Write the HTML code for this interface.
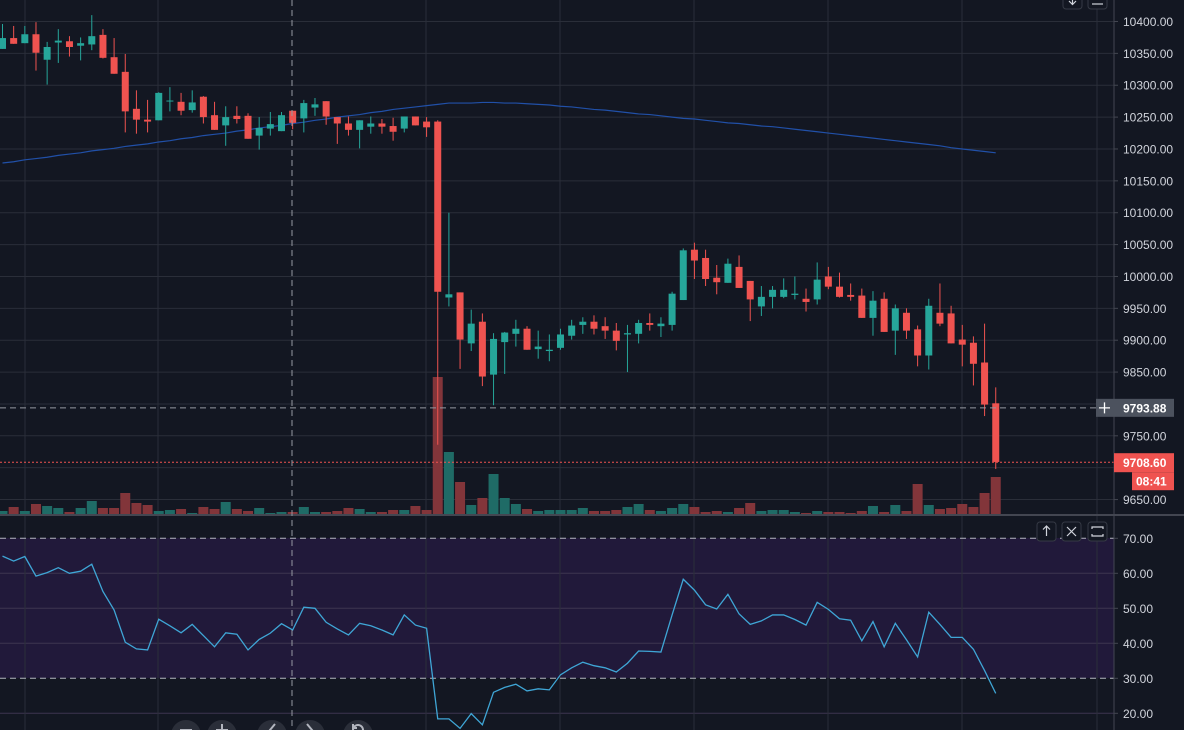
<!DOCTYPE html>
<html><head><meta charset="utf-8"><style>
html,body{margin:0;padding:0;background:#131722;width:1184px;height:730px;overflow:hidden;font-family:"Liberation Sans",sans-serif}
svg{display:block}
</style></head><body>
<svg id="chart" width="1184" height="730" xmlns="http://www.w3.org/2000/svg">
<rect x="0" y="0" width="1184" height="730" fill="#131722"/>
<rect x="0" y="538" width="1114" height="140" fill="#21193a"/>
<g id="grid"></g>
<g id="vol"></g>
<polyline id="ma" fill="none" stroke="#2150a8" stroke-width="1.2"/>
<g id="candles"></g>
<polyline id="rsi" fill="none" stroke="#3fa6d6" stroke-width="1.3"/>
<g id="axis"></g>
</svg>
<script>
const opens=[10357,10374,10366,10380,10340,10367,10369,10362,10364,10379,10344,10321,10263,10246,10245,10275,10274,10261,10282,10253,10237,10252,10252,10221,10232,10228,10260,10248,10265,10275,10250,10240,10230,10235,10240,10236,10232,10251,10243,10243,9967,9975,9895,9929,9846,9897,9910,9918,9886,9883,9888,9907,9924,9929,9922,9915,9909,9910,9927,9922,9924,9963,10042,10029,9998,9990,10015,9993,9953,9968,9968,9971,9965,9964,10000,9984,9971,9970,9935,9965,9915,9943,9917,9876,9943,9942,9901,9896,9865,9801];
const highs=[10396,10393,10393,10399,10368,10388,10377,10375,10410,10388,10374,10349,10292,10277,10289,10297,10288,10292,10283,10274,10267,10267,10256,10250,10258,10258,10260,10277,10280,10275,10250,10251,10245,10251,10247,10249,10251,10251,10250,10245,10100,9975,9948,9942,9911,9913,9932,9922,9915,9909,9918,9932,9936,9939,9936,9927,9924,9932,9942,9936,9976,10044,10053,10042,10018,10028,10033,9993,9985,9985,9997,10000,9981,10022,10015,10006,9989,9981,9977,9975,9956,9950,9923,9965,9989,9954,9924,9906,9926,9826];
const lows=[10357,10365,10366,10323,10301,10335,10345,10339,10355,10342,10318,10226,10224,10226,10245,10259,10253,10257,10240,10230,10205,10240,10216,10199,10221,10228,10231,10226,10252,10238,10208,10221,10201,10224,10224,10213,10226,10237,10219,9736,9953,9855,9883,9828,9798,9847,9890,9885,9871,9867,9885,9901,9910,9909,9902,9884,9850,9895,9915,9905,9915,9963,9996,9985,9972,9990,9982,9930,9938,9950,9966,9964,9945,9956,9980,9967,9962,9935,9907,9913,9877,9902,9859,9854,9922,9895,9859,9829,9781,9698];
const closes=[10374,10365,10380,10351,10360,10370,10360,10366,10377,10343,10318,10259,10246,10243,10288,10276,10260,10273,10250,10230,10250,10247,10216,10233,10239,10253,10241,10272,10270,10251,10240,10230,10245,10240,10235,10227,10251,10237,10234,9976,9972,9901,9926,9843,9902,9912,9918,9885,9890,9885,9909,9923,9929,9918,9915,9899,9911,9927,9924,9926,9973,10041,10025,9996,9991,10020,9982,9964,9968,9979,9979,9973,9960,9995,9984,9968,9968,9935,9962,9913,9950,9915,9876,9954,9926,9895,9893,9863,9799,9709];
const volumes=[3,7,3,10,8,6,2,6,13,6,6,21,11,9,3,4,5,1,7,5,12,5,3,6,1,2,2,7,2,2,3,6,5,2,2,4,4,8,4,137,62,32,9,16,40,16,10,5,3,4,4,4,6,3,3,4,7,10,4,3,6,10,7,2,3,2,6,11,3,4,4,2,1,3,2,2,1,3,8,2,9,3,30,9,5,6,10,7,21,37];
const maValues=[10178,10180,10183,10185,10187,10190,10192,10194,10197,10199,10201,10204,10206,10208,10211,10213,10216,10218,10221,10223,10225,10228,10230,10233,10235,10237,10240,10242,10245,10247,10250,10252,10254,10257,10259,10262,10264,10266,10268,10270,10272,10272,10272,10273,10273,10272,10272,10271,10270,10269,10267,10266,10264,10262,10261,10259,10257,10255,10254,10252,10250,10248,10247,10245,10243,10241,10240,10238,10236,10235,10233,10231,10229,10227,10225,10223,10221,10219,10217,10215,10213,10211,10209,10207,10205,10202,10200,10198,10196,10194];
const rsiValues=[64.9,63.5,64.8,59.2,60.2,61.6,60.0,60.6,62.6,54.8,49.5,40.3,38.4,38.1,46.9,45.0,43.0,45.4,42.2,39.0,43.0,42.6,38.1,41.1,42.9,45.6,43.8,50.3,50.0,46.0,44.1,42.4,45.7,45.0,43.8,42.4,48.1,45.2,44.3,18.4,18.4,15.7,19.9,16.7,26.0,27.4,28.3,26.4,27.0,26.7,31.0,33.0,34.6,33.6,33.0,31.8,34.3,37.8,37.7,37.5,48.1,58.3,55.2,51.0,49.8,54.0,48.4,45.4,46.4,48.1,48.1,46.8,45.2,51.7,49.7,47.0,46.6,40.7,46.2,39.0,45.7,41.0,36.1,48.9,45.4,41.7,41.7,38.3,32.2,25.7];
const priceTicks=[10400,10350,10300,10250,10200,10150,10100,10050,10000,9950,9900,9850,9800,9750,9650];
const rsiTicks=[70,60,50,40,30,20];
const lastPrice=9708.60, crossPrice=9793.88;

const NS="http://www.w3.org/2000/svg";
const xS=i=>2.5+11.16*i;
const yP=p=>21.5+(10400-p)*0.6374;
const yR=v=>538.3+(70-v)*3.5;
const yV=v=>514-v;
function mk(tag,attrs,parent){const e=document.createElementNS(NS,tag);for(const k in attrs)e.setAttribute(k,attrs[k]);parent.appendChild(e);return e;}
const grid=document.getElementById('grid'),vol=document.getElementById('vol'),cg=document.getElementById('candles'),ax=document.getElementById('axis');

// grid
[9650,9700,9750,9800,9850,9900,9950,10000,10050,10100,10150,10200,10250,10300,10350,10400].forEach(p=>{
  const l=mk('line',{x1:0,x2:1114,y1:yP(p),y2:yP(p),stroke:'#2a2e39','stroke-width':1},grid);
  
  
});
[60,50,40,20].forEach(v=>{
  const l=mk('line',{x1:0,x2:1114,y1:yR(v),y2:yR(v),stroke:'#3d3550','stroke-width':1},grid);
  
  
});
[25,158,426,560,694,828,962,1097].forEach(x=>{
  const l=mk('line',{x1:x,x2:x,y1:0,y2:730,stroke:'#2a2e39','stroke-width':1},grid);
  
  
});
[70,30].forEach(v=>{
  const l=mk('line',{x1:0,x2:1114,y1:yR(v),y2:yR(v),stroke:'#b2b5be','stroke-width':1,'stroke-dasharray':'6 4'},grid);
  
  
});
const sep=mk('line',{x1:0,x2:1184,y1:515,y2:515,stroke:'#434651','stroke-width':2},grid);



// volume
volumes.forEach((v,i)=>{
  const up=closes[i]>=opens[i];
  const r=mk('rect',{x:xS(i)-5,y:yV(v),width:10,height:v,fill:up?'#1f6b66':'#82353a'},vol);
  
  
});
// MA
document.getElementById('ma').setAttribute('points',maValues.map((v,i)=>xS(i)+','+yP(v)).join(' '));
// candles
opens.forEach((o,i)=>{
  const c=closes[i],up=c>=o,col=up?'#26a69a':'#ef5350',x=xS(i);
  const g=mk('g',{},cg);
  
  
  mk('line',{x1:x,x2:x,y1:yP(highs[i]),y2:yP(lows[i]),stroke:col,'stroke-width':1},g);
  const top=yP(Math.max(o,c)),bot=yP(Math.min(o,c));
  mk('rect',{x:x-3.5,y:top,width:7,height:Math.max(1,bot-top),fill:col},g);
});
// RSI
document.getElementById('rsi').setAttribute('points',rsiValues.map((v,i)=>xS(i)+','+yR(v)).join(' '));

// last price / crosshair lines
let l=mk('line',{x1:0,x2:1114,y1:yP(lastPrice),y2:yP(lastPrice),stroke:'#ef5350','stroke-width':1,'stroke-dasharray':'2 2'},ax);


l=mk('line',{x1:0,x2:1114,y1:yP(crossPrice),y2:yP(crossPrice),stroke:'#9598a1','stroke-width':1,'stroke-dasharray':'6 4'},ax);


l=mk('line',{x1:292,x2:292,y1:0,y2:730,stroke:'#9598a1','stroke-width':1,'stroke-dasharray':'6 4'},ax);



// axis
mk('rect',{x:1114,y:0,width:70,height:730,fill:'#131722'},ax);
mk('line',{x1:1114,x2:1114,y1:0,y2:730,stroke:'#434651','stroke-width':1},ax);
mk('line',{x1:1114,x2:1184,y1:515,y2:515,stroke:'#434651','stroke-width':2},ax);
priceTicks.forEach(p=>{
  const t=mk('text',{x:1123,y:yP(p)+4.5,fill:'#d1d4dc','font-size':12},ax);
  t.textContent=p.toFixed(2);
  
  
  mk('line',{x1:1114,x2:1118,y1:yP(p),y2:yP(p),stroke:'#434651'},ax);
});
rsiTicks.forEach(v=>{
  const t=mk('text',{x:1123,y:yR(v)+4.5,fill:'#d1d4dc','font-size':12},ax);
  t.textContent=v.toFixed(2);
  
  
  mk('line',{x1:1114,x2:1118,y1:yR(v),y2:yR(v),stroke:'#434651'},ax);
});
// crosshair label
let yc=yP(crossPrice);
mk('rect',{x:1096,y:yc-9,width:78,height:18,fill:'#4c525e'},ax);
mk('path',{d:`M1099 ${yc} h11 M1104.5 ${yc-5.5} v11`,stroke:'#fff','stroke-width':1.3},ax);
let t=mk('text',{x:1123,y:yc+4.5,fill:'#fff','font-size':12,'font-weight':'bold'},ax);
t.textContent=crossPrice.toFixed(2);


// last price label
let yl=yP(lastPrice);
mk('rect',{x:1114,y:yl-9,width:60,height:19,fill:'#ef5350'},ax);
t=mk('text',{x:1123,y:yl+5,fill:'#fff','font-size':12,'font-weight':'bold'},ax);
t.textContent=lastPrice.toFixed(2);


mk('rect',{x:1132,y:yl+10,width:42,height:18,fill:'#ef5350'},ax);
t=mk('text',{x:1136,y:yl+23.5,fill:'#fff','font-size':12,'font-weight':'bold'},ax);
t.textContent='08:41';



// pane buttons
function btn(x,y,name,glyph){
  const g=mk('g',{},ax);
  
  
  mk('rect',{x:x,y:y,width:19,height:19,rx:3,fill:'#131722',stroke:'#363a45'},g);
  mk('path',{d:glyph,stroke:'#d1d4dc','stroke-width':1.2,fill:'none'},g);
}
btn(1063,-10,'move-pane-down-button','M1072.5 -6 v10 M1069 1 l3.5 3.5 l3.5 -3.5');
btn(1088,-10,'maximize-pane-button','M1092 4 h11');
btn(1037,522,'move-pane-up-button','M1046.5 536 v-10 M1043 529.5 l3.5 -3.5 l3.5 3.5');
btn(1062,522,'close-pane-button','M1067 527 l9 9 M1076 527 l-9 9');
btn(1088,522,'maximize-rsi-pane-button','M1092 529 v-2 h11 v2 M1092 534 v2 h11 v-2');

// bottom nav controls
[[186,'zoom-out-button','M180 730 h12'],[222,'zoom-in-button','M216 730 h12 M222 724 v12'],[272,'scroll-left-button','M275 724 l-5 6 l5 6'],[310,'scroll-right-button','M307 724 l5 6 l-5 6'],[358,'reset-button','M353 730 a5 5 0 1 1 5 5 M353 724 v4 h4']].forEach(([cx,name,d])=>{
  const g=mk('g',{},ax);
  
  
  mk('circle',{cx:cx,cy:735,r:15,fill:'#2a2e39'},g);
  mk('path',{d:d,stroke:'#b2b5be','stroke-width':2,fill:'none'},g);
});
</script>
</body></html>
